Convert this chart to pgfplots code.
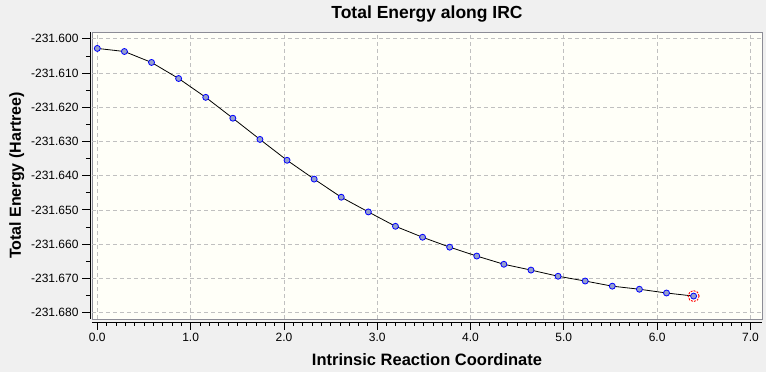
\documentclass[border=0pt]{standalone}
\usepackage{pgfplots}
\pgfplotsset{compat=1.18}
\usepackage{fontspec}
\setmainfont{Liberation Sans}
\definecolor{figbg}{RGB}{240,240,240}
\definecolor{plotbg}{RGB}{255,255,248}
\definecolor{boxgray}{RGB}{140,140,150}
\definecolor{gridgray}{RGB}{192,192,192}
\definecolor{markfill}{RGB}{150,160,205}
\begin{document}
\begin{tikzpicture}[x=1pt,y=1pt]
\path[fill=figbg,use as bounding box] (0,0) rectangle (766,372);
\begin{axis}[
  at={(92pt,53pt)}, anchor=south west,
  scale only axis, width=670pt, height=287pt,
  xmin=-0.057, xmax=7.124,
  ymin=-231.6819, ymax=-231.5980,
  axis x line*=bottom, axis y line*=left,
  axis x line shift=3pt, axis y line shift=2pt,
  axis line style={black, line width=0.8pt},
  axis background/.style={fill=plotbg, draw=boxgray, line width=0.9pt},
  xtick={0,1,2,3,4,5,6,7},
  xticklabels={0.0,1.0,2.0,3.0,4.0,5.0,6.0,7.0},
  ytick={-231.60,-231.61,-231.62,-231.63,-231.64,-231.65,-231.66,-231.67,-231.68},
  yticklabels={-231.600,-231.610,-231.620,-231.630,-231.640,-231.650,-231.660,-231.670,-231.680},
  minor x tick num=9, minor y tick num=1,
  tick align=outside,
  major tick length=8pt, minor tick length=4pt,
  every tick/.style={black, line width=0.8pt},
  grid=major,
  major grid style={gridgray, dash pattern=on 4pt off 3pt, line width=0.7pt},
  tick label style={font=\fontsize{12}{14}\selectfont},
  title={Total Energy along IRC},
  title style={at={(0.5,1.0453)}, anchor=base, yshift=-6pt, font=\bfseries\fontsize{17.5}{20}\selectfont},
  xlabel={Intrinsic Reaction Coordinate},
  xlabel style={at={(0.5,-0.1603)}, anchor=base, font=\bfseries\fontsize{16.5}{19}\selectfont},
  ylabel={Total Energy (Hartree)},
  ylabel style={at={(-0.106,0.5)}, anchor=base, rotate=0, font=\bfseries\fontsize{16}{19}\selectfont},
  clip=false,
]
\addplot[black, line width=0.8pt, mark=*, mark size=3pt,
  mark options={fill=markfill, draw=blue, line width=0.8pt}] coordinates {
(0.0000,-231.6028) (0.2905,-231.6037) (0.5810,-231.6069) (0.8715,-231.6116)
(1.1620,-231.6171) (1.4525,-231.6232) (1.7430,-231.6294) (2.0335,-231.6355)
(2.3240,-231.6410) (2.6145,-231.6463) (2.9050,-231.6506) (3.1955,-231.6548)
(3.4860,-231.6580) (3.7765,-231.6609) (4.0670,-231.6635) (4.3575,-231.6659)
(4.6480,-231.6676) (4.9385,-231.6694) (5.2290,-231.6708) (5.5195,-231.6723)
(5.8100,-231.6732) (6.1005,-231.6743) (6.3910,-231.6752)
};
\addplot[only marks, mark=o, mark size=5.5pt,
  mark options={draw=red, line width=0.9pt, dash pattern=on 2pt off 1.2pt}] coordinates {
(6.3910,-231.6752)
};
\end{axis}
\end{tikzpicture}
\end{document}
